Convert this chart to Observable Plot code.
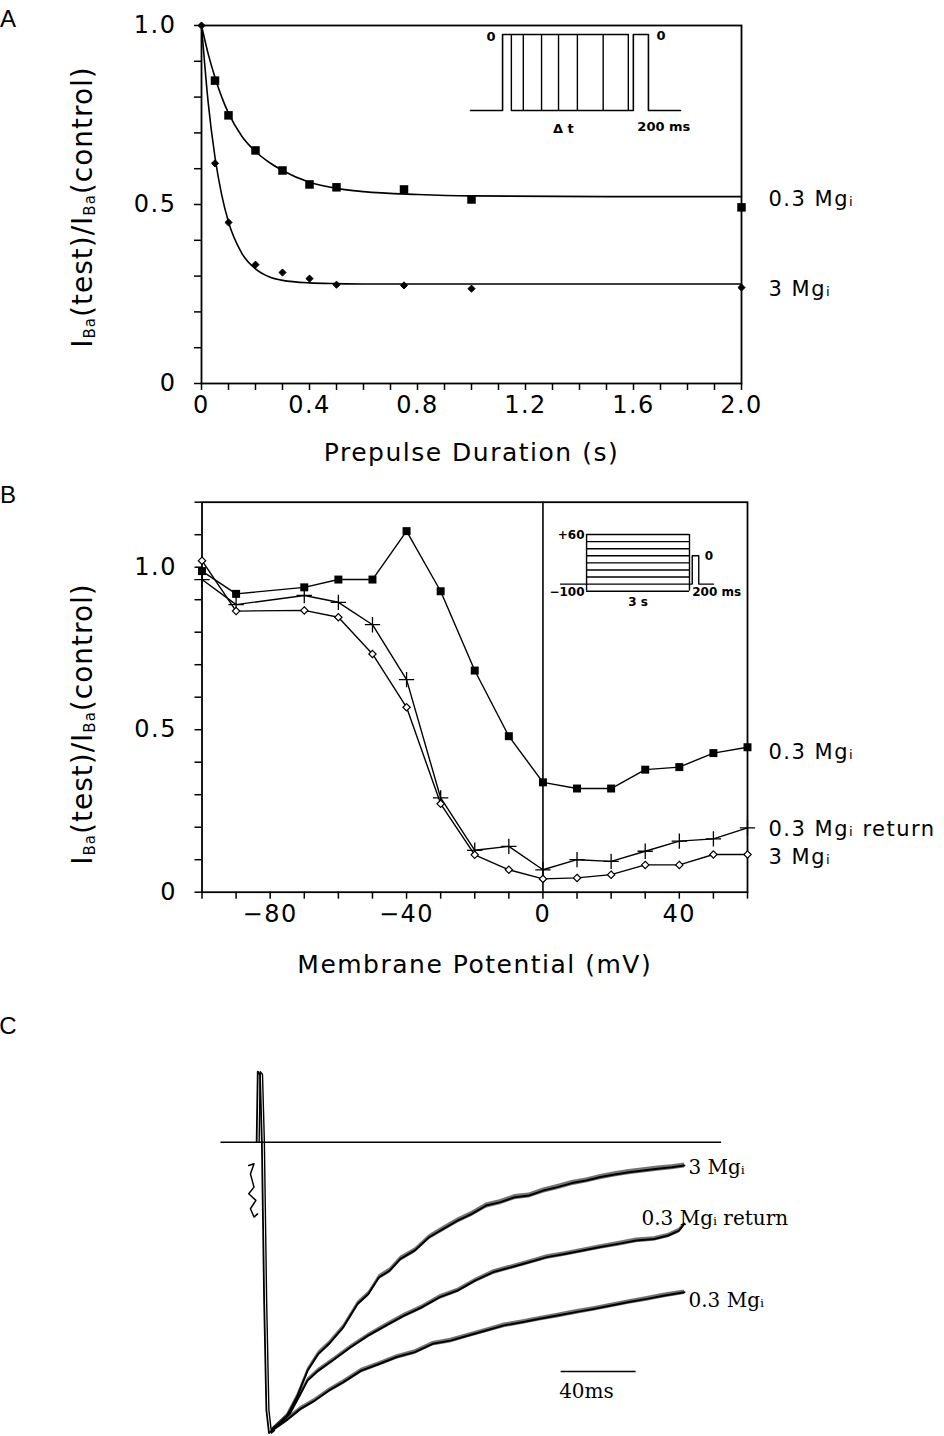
<!DOCTYPE html>
<html>
<head>
<meta charset="utf-8">
<script src="https://cdn.jsdelivr.net/npm/d3@7"></script>
<script src="https://cdn.jsdelivr.net/npm/@observablehq/plot@0.6"></script>
<style>
  html, body { margin: 0; padding: 0; background: #fff; }
  #fig { position: relative; width: 944px; height: 1436px; background: #fff; overflow: hidden; }
</style>
</head>
<body>
<div id="fig"></div>
<script>
// ================= DATA =================
// Panel A : prepulse duration (s) vs I_Ba(test)/I_Ba(control)
const durA3   = [0, 0.05, 0.1, 0.2, 0.3, 0.4, 0.5, 0.75, 1.0, 2.0];
const ratioA3 = [1.0, 0.615, 0.450, 0.332, 0.310, 0.293, 0.276, 0.274, 0.265, 0.268];
const durA03   = [0.05, 0.1, 0.2, 0.3, 0.4, 0.5, 0.75, 1.0, 2.0];
const ratioA03 = [0.846, 0.749, 0.651, 0.595, 0.556, 0.548, 0.542, 0.514, 0.492];
// fitted curves
const fitDurA = [0, 0.025, 0.05, 0.075, 0.1, 0.15, 0.2, 0.25, 0.3, 0.4, 0.5, 0.6, 0.8, 1.0, 1.5, 2.0];
const fitA03  = [1.0, 0.92, 0.855, 0.80, 0.755, 0.69, 0.648, 0.618, 0.595, 0.562, 0.545, 0.536, 0.528, 0.524, 0.522, 0.522];
const fitA3   = [1.0, 0.783, 0.632, 0.526, 0.451, 0.363, 0.32, 0.298, 0.288, 0.281, 0.279, 0.278, 0.278, 0.278, 0.278, 0.278];
const xTickLabelsA = ["0", "0.4", "0.8", "1.2", "1.6", "2.0"];
const yTickLabelsA = ["0", "0.5", "1.0"];
const seriesLabelsA = ["0.3 Mg\u1d62", "3 Mg\u1d62"];
const xTitleA = "Prepulse Duration (s)";

// Panel A inset: prepulse protocol (schematic, ms and mV)
const protoA_ends = [140, 330, 620, 890, 1190, 1600, 2000];
const protoA_test = [2080, 2320];
const protoA_span = [-510, 2830];
const protoA_levels = [-100, 0];
const protoA_labels = ["0", "0", "\u0394 t", "200 ms"];

// Panel B : membrane potential (mV) vs ratio
const vmB = [-100, -90, -70, -60, -50, -40, -30, -20, -10, 0, 10, 20, 30, 40, 50, 60];
const ratioB03  = [0.988, 0.918, 0.938, 0.962, 0.962, 1.111, 0.926, 0.682, 0.480, 0.338, 0.319, 0.319, 0.377, 0.385, 0.428, 0.446];
const ratioBret = [0.962, 0.885, 0.913, 0.892, 0.823, 0.654, 0.290, 0.129, 0.141, 0.069, 0.100, 0.095, 0.126, 0.157, 0.164, 0.198];
const ratioB3   = [1.020, 0.865, 0.867, 0.846, 0.733, 0.569, 0.272, 0.115, 0.069, 0.041, 0.044, 0.054, 0.084, 0.084, 0.116, 0.116];
const xTickLabelsB = ["\u221280", "\u221240", "0", "40"];
const yTickLabelsB = ["0", "0.5", "1.0"];
const seriesLabelsB = ["0.3 Mg\u1d62", "0.3 Mg\u1d62 return", "3 Mg\u1d62"];
const xTitleB = "Membrane Potential (mV)";

// Panel B inset: conditioning protocol (schematic, s and mV)
const protoB_levels = [-100, -80, -60, -40, -20, 0, 20, 40, 60];
const protoB_dur = 3;
const protoB_hold = -80;
const protoB_test = [3.08, 3.27];
const protoB_span = [-0.76, 3.7];
const protoB_labels = ["+60", "\u2212100", "0", "3 s", "200 ms"];

// Panel C : current traces (ms, current normalised to peak)
const traceT3 = [7.2,14.8,20.5,26.2,31.9,37.6,45.3,52.9,58.6,64.3,70.0,75.7,83.4,91.0,98.6,106.2,113.8,121.4,129.1,136.7,144.3,151.9,159.5,167.2,174.8,182.4,190.0,197.6,205.3,212.9,220.5,227.2];
const traceI3 = [-1.001,-0.955,-0.885,-0.793,-0.735,-0.700,-0.642,-0.561,-0.527,-0.469,-0.446,-0.405,-0.376,-0.330,-0.301,-0.272,-0.249,-0.220,-0.208,-0.191,-0.185,-0.168,-0.156,-0.142,-0.133,-0.121,-0.112,-0.104,-0.098,-0.092,-0.087,-0.081];
const traceTret = [7.2,16.7,22.4,26.2,31.9,39.5,49.1,58.6,68.1,77.6,87.2,96.7,106.2,115.7,125.3,134.8,144.3,153.8,163.4,172.9,182.4,191.9,201.5,211.0,218.6,224.3,227.2];
const traceIret = [-1.001,-0.943,-0.874,-0.827,-0.793,-0.758,-0.712,-0.671,-0.636,-0.602,-0.573,-0.538,-0.515,-0.480,-0.451,-0.434,-0.417,-0.399,-0.388,-0.376,-0.364,-0.353,-0.341,-0.336,-0.324,-0.307,-0.283];
const traceT03 = [7.2,14.8,22.4,30.0,37.6,45.3,54.8,64.3,73.8,83.4,92.9,102.4,111.9,121.4,131.0,140.5,150.0,159.5,169.1,178.6,188.1,197.6,207.2,216.7,227.2];
const traceI03 = [-1.001,-0.966,-0.926,-0.897,-0.862,-0.833,-0.793,-0.770,-0.746,-0.729,-0.700,-0.689,-0.671,-0.654,-0.636,-0.625,-0.613,-0.602,-0.590,-0.579,-0.567,-0.555,-0.544,-0.532,-0.521];
const noiseHalfC = [0.009, 0.008, 0.008];   // half-width of the noise band of each trace
const artifactT = [-5.2,-2.4,-4.3,-2.4,-5.2,-1.4,-4.3,-2.4,-0.5];
const artifactI = [-0.081,-0.075,-0.11,-0.156,-0.179,-0.202,-0.231,-0.26,-0.249];
const spikeT = [-1.0,-0.4,0.8,1.8,3.0,4.2,5.6,7.2];
const spikeI = [0,0.245,0.235,0,-0.55,-0.93,-1.01,-1.001];
const baselineSpan = [-20, 247];
const scaleBarT = [161.4, 201.4];
const scaleBarI = -0.796;
const scaleBarLabel = "40ms";
const seriesLabelsC = ["3 Mg\u1d62", "0.3 Mg\u1d62 return", "0.3 Mg\u1d62"];

// y-axis title pieces: [text, isSubscript]
const yTitleParts = [["I",0],["Ba",1],["(test)/",0],["I",0],["Ba",1],["(control)",0]];
const panelLetters = ["A", "B", "C"];

// ================= HELPERS =================
const SANS = "'DejaVu Sans', 'Liberation Sans', sans-serif";
const SERIF = "'DejaVu Serif', 'Liberation Serif', serif";
const fig = document.getElementById("fig");
function place(node, left, top) {
  node.style.position = "absolute";
  node.style.left = left + "px";
  node.style.top = top + "px";
  fig.appendChild(node);
  return node;
}
function labelFormat(labels) {
  const vals = labels.map(s => Number(s.replace("\u2212", "-")));
  return d => { const i = vals.findIndex(v => Math.abs(v - d) < 1e-9); return i >= 0 ? labels[i] : ""; };
}
function rows(xs, ys) { return xs.map((x, i) => ({x, y: ys[i]})); }
function endLabel(xs, ys, text, opts) {
  return Plot.text([{x: xs[xs.length - 1], y: ys[ys.length - 1], t: text}],
    Object.assign({x: "x", y: "y", text: "t", textAnchor: "start", lineAnchor: "middle", fill: "black"}, opts));
}
function addYTitle(svg, x, y) {
  const t = d3.select(svg).append("text")
    .attr("transform", `translate(${x},${y}) rotate(-90)`)
    .attr("text-anchor", "middle")
    .attr("fill", "black")
    .style("font-family", SANS)
    .style("font-size", "28px")
    .style("letter-spacing", "1px");
  let prevSub = 0;
  yTitleParts.forEach(([s, sub]) => {
    const ts = t.append("tspan").text(s);
    if (sub) ts.style("font-size", "15px");
    const shift = (sub ? 3 : 0) - (prevSub ? 3 : 0);
    if (shift) ts.attr("dy", shift);
    prevSub = sub;
  });
}
function addLetter(svg, letter, x, y) {
  d3.select(svg).append("text").attr("x", x).attr("y", y)
    .attr("fill", "black")
    .style("font-family", "'Liberation Sans', sans-serif")
    .style("font-size", "24px")
    .style("letter-spacing", "0px")
    .text(letter);
}

const xTicksA = d3.range(0, 21).map(i => i / 10);
const yTicksA = d3.range(0, 11).map(i => i / 10);
const xTicksB = d3.range(-100, 61, 10);
const yTicksB = d3.range(0, 13).map(i => i / 10);

// ================= PANEL A =================
const plotA = Plot.plot({
  width: 944, height: 480,
  marginLeft: 201, marginRight: 203, marginTop: 25, marginBottom: 97,
  x: {domain: [0, 2], label: null},
  y: {domain: [0, 1], label: null},
  style: {fontFamily: SANS, fontSize: "24px", color: "black", background: "transparent", letterSpacing: "1.5px", overflow: "visible"},
  marks: [
    Plot.frame({stroke: "black", strokeWidth: 1.8}),
    Plot.axisX({ticks: xTicksA, tickSize: 7, tickPadding: 5, tickFormat: labelFormat(xTickLabelsA), strokeWidth: 1.5, label: null}),
    Plot.axisY({ticks: yTicksA, tickSize: 7, tickPadding: 18, tickFormat: labelFormat(yTickLabelsA), strokeWidth: 1.5, label: null}),
    Plot.line(rows(fitDurA, fitA03), {x: "x", y: "y", curve: "monotone-x", stroke: "black", strokeWidth: 1.6}),
    Plot.line(rows(fitDurA, fitA3), {x: "x", y: "y", curve: "monotone-x", stroke: "black", strokeWidth: 1.6}),
    Plot.dot(rows(durA03, ratioA03), {x: "x", y: "y", symbol: "square", r: 4.8, fill: "black"}),
    Plot.dot(rows(durA3, ratioA3), {x: "x", y: "y", symbol: "diamond2", r: 3.2, fill: "black", stroke: "black", strokeWidth: 1}),
    Plot.text([xTitleA], {frameAnchor: "bottom", dy: 69, lineAnchor: "middle", fontSize: 25, fill: "black"}),
    endLabel(fitDurA, fitA03, seriesLabelsA[0], {dx: 27, dy: 3, fontSize: 21}),
    endLabel(fitDurA, fitA3, seriesLabelsA[1], {dx: 27, dy: 5, fontSize: 21})
  ]
});
addYTitle(plotA, 92, 207);
addLetter(plotA, panelLetters[0], 8, 27);
place(plotA, 0, 0);

// Inset A
const insetA = Plot.plot({
  width: 260, height: 130,
  marginLeft: 10, marginRight: 40, marginTop: 19, marginBottom: 35,
  x: {domain: protoA_span, axis: null},
  y: {domain: protoA_levels, axis: null},
  style: {fontFamily: SANS, fontSize: "13px", fontWeight: "bold", background: "transparent", overflow: "visible"},
  marks: [
    Plot.line([{x: protoA_span[0], y: -100}, {x: 0, y: -100}, {x: 0, y: 0}, {x: protoA_ends[protoA_ends.length - 1], y: 0}],
      {x: "x", y: "y", stroke: "black", strokeWidth: 1.6}),
    Plot.ruleX(protoA_ends, {y1: -100, y2: 0, stroke: "black", strokeWidth: 1.4}),
    Plot.line([{x: protoA_ends[0], y: -100}, {x: protoA_test[0], y: -100}, {x: protoA_test[0], y: 0},
               {x: protoA_test[1], y: 0}, {x: protoA_test[1], y: -100}, {x: protoA_span[1], y: -100}],
      {x: "x", y: "y", stroke: "black", strokeWidth: 1.6}),
    Plot.text([{x: 0, y: 0}], {x: "x", y: "y", text: () => protoA_labels[0], textAnchor: "end", dx: -7, dy: 2, fill: "black", fontWeight: "bold"}),
    Plot.text([{x: protoA_test[1], y: 0}], {x: "x", y: "y", text: () => protoA_labels[1], textAnchor: "start", dx: 8, dy: 1, fill: "black", fontWeight: "bold"}),
    Plot.text([{x: d3.mean(protoA_ends), y: -100}], {x: "x", y: "y", text: () => protoA_labels[2], dy: 18, fill: "black", fontWeight: "bold"}),
    Plot.text([{x: protoA_test[0], y: -100}], {x: "x", y: "y", text: () => protoA_labels[3], textAnchor: "start", dx: 4, dy: 16, fill: "black", fontWeight: "bold"})
  ]
});
place(insetA, 460, 15);

// ================= PANEL B =================
const plotB = Plot.plot({
  width: 944, height: 520,
  marginLeft: 201.5, marginRight: 197, marginTop: 21.7, marginBottom: 108.3,
  x: {domain: [-100, 60], label: null},
  y: {domain: [0, 1.2], label: null},
  style: {fontFamily: SANS, fontSize: "24px", color: "black", background: "transparent", letterSpacing: "1.5px", overflow: "visible"},
  marks: [
    Plot.frame({stroke: "black", strokeWidth: 1.8}),
    Plot.axisX({ticks: xTicksB, tickSize: 7, tickPadding: 6, tickFormat: labelFormat(xTickLabelsB), strokeWidth: 1.5, label: null}),
    Plot.axisY({ticks: yTicksB, tickSize: 7, tickPadding: 18, tickFormat: labelFormat(yTickLabelsB), strokeWidth: 1.5, label: null}),
    Plot.ruleX([0], {stroke: "black", strokeWidth: 1.6}),
    Plot.line(rows(vmB, ratioB03), {x: "x", y: "y", stroke: "black", strokeWidth: 1.4}),
    Plot.line(rows(vmB, ratioBret), {x: "x", y: "y", stroke: "black", strokeWidth: 1.4}),
    Plot.line(rows(vmB, ratioB3), {x: "x", y: "y", stroke: "black", strokeWidth: 1.4}),
    Plot.dot(rows(vmB, ratioB03), {x: "x", y: "y", symbol: "square", r: 4.5, fill: "black"}),
    Plot.dot(rows(vmB, ratioBret), {x: "x", y: "y", symbol: "plus", r: 5, stroke: "black", strokeWidth: 1.3}),
    Plot.dot(rows(vmB, ratioB3), {x: "x", y: "y", symbol: "diamond2", r: 3.3, fill: "white", stroke: "black", strokeWidth: 1.2}),
    Plot.text([xTitleB], {frameAnchor: "bottom", dy: 73, lineAnchor: "middle", fontSize: 25, fill: "black"}),
    endLabel(vmB, ratioB03, seriesLabelsB[0], {dx: 21, dy: 5, fontSize: 21}),
    endLabel(vmB, ratioBret, seriesLabelsB[1], {dx: 21, dy: 1, fontSize: 21}),
    endLabel(vmB, ratioB3, seriesLabelsB[2], {dx: 21, dy: 3, fontSize: 21})
  ]
});
addYTitle(plotB, 92, 244);
addLetter(plotB, panelLetters[1], 8, 23);
place(plotB, 0, 480);

// Inset B
const insetB = Plot.plot({
  width: 220, height: 90,
  marginLeft: 20, marginRight: 47, marginTop: 14, marginBottom: 19.3,
  x: {domain: protoB_span, axis: null},
  y: {domain: [protoB_levels[0], protoB_levels[protoB_levels.length - 1]], axis: null},
  style: {fontFamily: SANS, fontSize: "12px", fontWeight: "bold", background: "transparent", overflow: "visible"},
  marks: [
    Plot.ruleY(protoB_levels, {x1: 0, x2: protoB_dur, stroke: "black", strokeWidth: 1.4}),
    Plot.ruleX([0, protoB_dur], {y1: protoB_levels[0], y2: protoB_levels[protoB_levels.length - 1], stroke: "black", strokeWidth: 1.4}),
    Plot.line([{x: protoB_span[0], y: protoB_hold}, {x: 0, y: protoB_hold}], {x: "x", y: "y", stroke: "black", strokeWidth: 1.4}),
    Plot.line([{x: protoB_dur, y: protoB_hold}, {x: protoB_test[0], y: protoB_hold}, {x: protoB_test[0], y: 0},
               {x: protoB_test[1], y: 0}, {x: protoB_test[1], y: protoB_hold}, {x: protoB_span[1], y: protoB_hold}],
      {x: "x", y: "y", stroke: "black", strokeWidth: 1.4}),
    Plot.text([{x: 0, y: 60}], {x: "x", y: "y", text: () => protoB_labels[0], textAnchor: "end", dx: -2, dy: 1, fill: "black", fontWeight: "bold"}),
    Plot.text([{x: 0, y: -100}], {x: "x", y: "y", text: () => protoB_labels[1], textAnchor: "end", dx: -2, dy: 1, fill: "black", fontWeight: "bold"}),
    Plot.text([{x: protoB_test[1], y: 0}], {x: "x", y: "y", text: () => protoB_labels[2], textAnchor: "start", dx: 6, dy: 0, fill: "black", fontWeight: "bold"}),
    Plot.text([{x: protoB_dur / 2, y: -100}], {x: "x", y: "y", text: () => protoB_labels[3], dy: 11, fill: "black", fontWeight: "bold"}),
    Plot.text([{x: protoB_test[0], y: -100}], {x: "x", y: "y", text: () => protoB_labels[4], textAnchor: "start", dx: 0, dy: 1, fill: "black", fontWeight: "bold"})
  ]
});
place(insetB, 540, 520);

// ================= PANEL C =================
function band(ts, is, h) { return ts.map((t, i) => ({x: t, lo: is[i] - h, hi: is[i] + h})); }
const plotC = Plot.plot({
  width: 944, height: 436,
  marginLeft: 220.5, marginRight: 198.5, marginTop: 55.3, marginBottom: 6.3,
  x: {domain: [-20, 260], axis: null},
  y: {domain: [-1, 0.3], axis: null},
  style: {fontFamily: SERIF, fontSize: "20px", color: "black", background: "transparent", overflow: "visible"},
  marks: [
    Plot.ruleY([0], {x1: baselineSpan[0], x2: baselineSpan[1], stroke: "black", strokeWidth: 1.6}),
    Plot.line(rows(artifactT, artifactI), {x: "x", y: "y", stroke: "black", strokeWidth: 1.5}),
    Plot.line(rows(spikeT, spikeI), {x: "x", y: "y", stroke: "black", strokeWidth: 1.8}),
    Plot.line(rows(spikeT, spikeI), {x: "x", y: "y", stroke: "black", strokeWidth: 1.4, dx: 2.5}),
    Plot.areaY(band(traceT3, traceI3, noiseHalfC[0]), {x: "x", y1: "lo", y2: "hi", fill: "black", fillOpacity: 0.55}),
    Plot.areaY(band(traceTret, traceIret, noiseHalfC[1]), {x: "x", y1: "lo", y2: "hi", fill: "black", fillOpacity: 0.55}),
    Plot.areaY(band(traceT03, traceI03, noiseHalfC[2]), {x: "x", y1: "lo", y2: "hi", fill: "black", fillOpacity: 0.55}),
    Plot.line(rows(traceT3, traceI3), {x: "x", y: "y", stroke: "black", strokeWidth: 2}),
    Plot.line(rows(traceTret, traceIret), {x: "x", y: "y", stroke: "black", strokeWidth: 2}),
    Plot.line(rows(traceT03, traceI03), {x: "x", y: "y", stroke: "black", strokeWidth: 2}),
    Plot.ruleY([scaleBarI], {x1: scaleBarT[0], x2: scaleBarT[1], stroke: "black", strokeWidth: 1.5}),
    Plot.text([{x: scaleBarT[0], y: scaleBarI}], {x: "x", y: "y", text: () => scaleBarLabel, textAnchor: "start", dx: -2, dy: 20, fill: "black"}),
    endLabel(traceT3, traceI3, seriesLabelsC[0], {dx: 4, dy: 2, fontSize: 20}),
    endLabel(traceTret, traceIret, seriesLabelsC[1], {dx: -43, dy: -5, fontSize: 20}),
    endLabel(traceT03, traceI03, seriesLabelsC[2], {dx: 4, dy: 8, fontSize: 20})
  ]
});
addLetter(plotC, panelLetters[2], 8, 34);
place(plotC, 0, 1000);
</script>
</body>
</html>
